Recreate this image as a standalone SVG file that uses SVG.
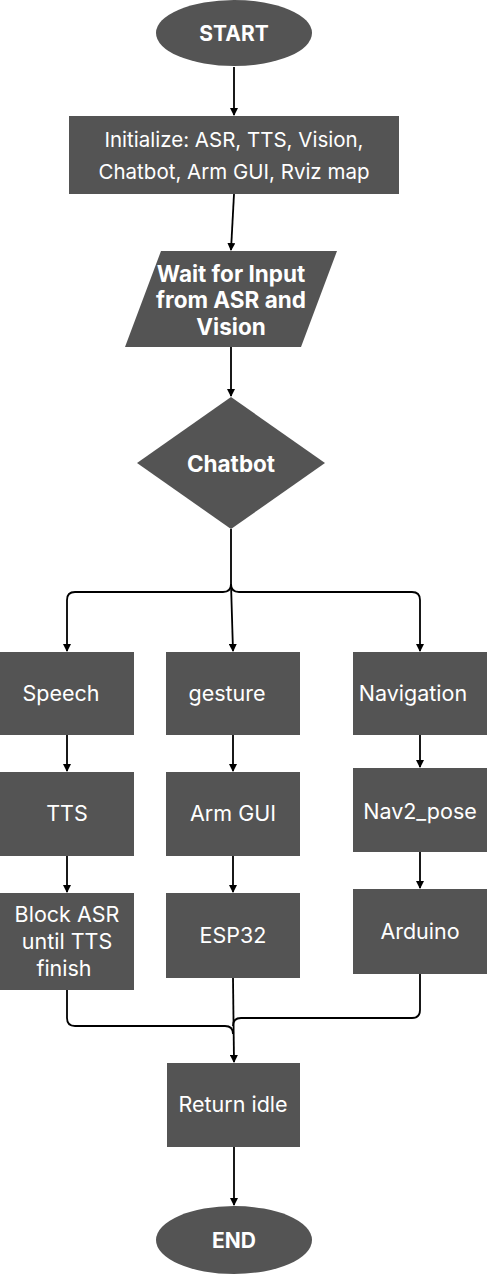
<svg xmlns="http://www.w3.org/2000/svg" width="487" height="1274" viewBox="0 0 487 1274">
<style>
.n{fill:#545454}
.t{font-family:Inter,"Noto Sans",sans-serif;font-size:21.5px;fill:#fff;text-anchor:middle;dominant-baseline:central}
.i{font-size:20.5px}
.b{font-weight:bold;font-size:22.5px}
.s{font-size:21px}
.c{fill:none;stroke:#000;stroke-width:1.8}
</style>
<defs>
<marker id="ah" markerWidth="8" markerHeight="8" refX="7" refY="4" orient="auto" markerUnits="userSpaceOnUse">
<path d="M0,0 L8,4 L0,8 Z" fill="#000"/>
</marker>
</defs>
<rect width="487" height="1274" fill="#fff"/>
<g id="connectors">
<path class="c" d="M234,67 L234,115" marker-end="url(#ah)"/>
<path class="c" d="M234,194 L231,250" marker-end="url(#ah)"/>
<path class="c" d="M231,347 L231,396" marker-end="url(#ah)"/>
<path class="c" d="M231,529 L231,584 Q231,592 223,592 L75,592 Q67,592 67,600 L67,651" marker-end="url(#ah)"/>
<path class="c" d="M231,584 L233,651" marker-end="url(#ah)"/>
<path class="c" d="M231,584 Q231,592 239,592 L412,592 Q420,592 420,600 L420,651" marker-end="url(#ah)"/>
<path class="c" d="M67,735 L67,771" marker-end="url(#ah)"/>
<path class="c" d="M233,735 L233,771" marker-end="url(#ah)"/>
<path class="c" d="M420,735 L420,767" marker-end="url(#ah)"/>
<path class="c" d="M67,856 L67,892" marker-end="url(#ah)"/>
<path class="c" d="M233,856 L233,892" marker-end="url(#ah)"/>
<path class="c" d="M420,852 L420,888" marker-end="url(#ah)"/>
<path class="c" d="M67,990 L67,1018 Q67,1026 75,1026 L225,1026 Q233,1026 233,1034"/>
<path class="c" d="M420,974 L420,1010 Q420,1018 412,1018 L241,1018 Q233,1018 233,1026"/>
<path class="c" d="M233,978 L234,1062" marker-end="url(#ah)"/>
<path class="c" d="M234,1147 L234,1205" marker-end="url(#ah)"/>
</g>
<g id="start"><ellipse class="n" cx="234" cy="33" rx="78" ry="33"/><text class="t b s" x="234" y="33">START</text></g>
<g id="init"><rect class="n" x="69" y="116" width="330" height="78"/><text class="t i" x="234" y="139">Initialize: ASR, TTS, Vision,</text><text class="t i" x="234" y="171">Chatbot, Arm GUI, Rviz map</text></g>
<g id="wait"><polygon class="n" points="161,251 337,251 301,347 125,347"/><text class="t b" x="231" y="273">Wait for Input</text><text class="t b" x="231" y="299">from ASR and</text><text class="t b" x="231" y="326">Vision</text></g>
<g id="chatbot"><polygon class="n" points="231,397 325,463 231,529 137,463"/><text class="t b" x="231" y="463">Chatbot</text></g>
<g id="speech"><rect class="n" x="0" y="652" width="134" height="83"/><text class="t" x="61" y="693">Speech</text></g>
<g id="gesture"><rect class="n" x="166" y="652" width="134" height="83"/><text class="t" x="227" y="693">gesture</text></g>
<g id="navigation"><rect class="n" x="353" y="652" width="134" height="83"/><text class="t" x="413" y="693">Navigation</text></g>
<g id="tts"><rect class="n" x="0" y="772" width="134" height="84"/><text class="t" x="67" y="813">TTS</text></g>
<g id="armgui"><rect class="n" x="166" y="772" width="134" height="84"/><text class="t" x="233" y="813">Arm GUI</text></g>
<g id="nav2pose"><rect class="n" x="353" y="768" width="134" height="84"/><text class="t" x="420" y="811">Nav2_pose</text></g>
<g id="block"><rect class="n" x="0" y="893" width="134" height="97"/><text class="t" x="67" y="914">Block ASR</text><text class="t" x="67" y="941">until TTS</text><text class="t" x="64" y="968">finish</text></g>
<g id="esp32"><rect class="n" x="166" y="893" width="134" height="85"/><text class="t" x="233" y="935">ESP32</text></g>
<g id="arduino"><rect class="n" x="353" y="889" width="134" height="85"/><text class="t" x="420" y="931">Arduino</text></g>
<g id="return"><rect class="n" x="167" y="1063" width="133" height="84"/><text class="t" x="233" y="1104">Return idle</text></g>
<g id="end"><ellipse class="n" cx="234" cy="1240" rx="78" ry="34"/><text class="t b s" x="234" y="1240">END</text></g>
</svg>
